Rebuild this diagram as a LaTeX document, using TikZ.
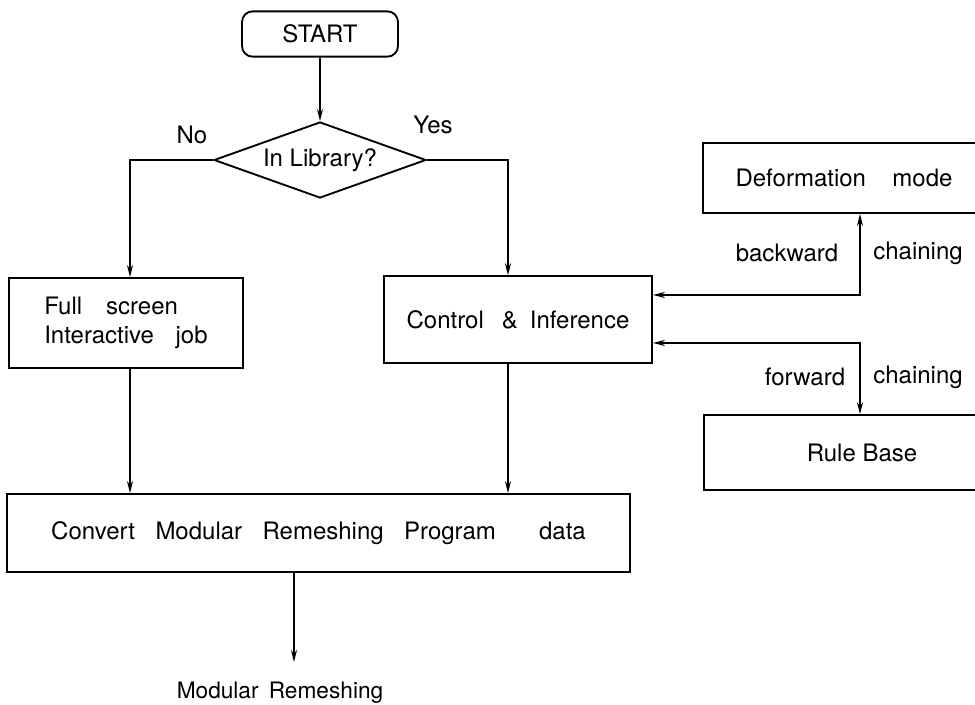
\documentclass[tikz,border=0pt]{standalone}
\usepackage{fontspec}
\setmainfont{TeX Gyre Heros}
\usetikzlibrary{arrows.meta,positioning,shapes.geometric}

\begin{document}
\begin{tikzpicture}[
    x=0.75pt, y=-0.75pt,
    >={Stealth[length=9pt,width=4.5pt]},
    every node/.style={font=\fontsize{18}{22}\selectfont},
    box/.style={draw, line width=1.4pt, inner sep=0pt},
    conn/.style={->, line width=1.4pt},
    link/.style={<->, line width=1.4pt}
]
    \useasboundingbox (0,0) rectangle (975,705);
    \clip (0,0) rectangle (975,705);

    % === MAIN FLOW ===
    \node[box, rounded corners=8pt, minimum width=117pt, minimum height=34pt] (start) at (320,34) {START};

    \node[box, diamond, aspect=2.8, minimum width=159pt, minimum height=57pt] (lib) at (320,160) {In Library?};
    \node (no) at (192,135) {No};
    \node (yes) at (433,125) {Yes};

    \node[box, align=left, minimum width=175pt, minimum height=67.5pt] (full) at (126,323)
        {Full\hspace{1em}screen\\Interactive\hspace{0.9em}job};

    \node[box, minimum width=201pt, minimum height=65pt] (ctl) at (518,319.5)
        {Control\hspace{0.75em}\&\hspace{0.5em}Inference};

    \node[box, minimum width=467pt, minimum height=58.5pt] (conv) at (318.5,533)
        {Convert\hspace{0.85em}Modular\hspace{0.85em}Remeshing\hspace{0.85em}Program\hspace{1.8em}data};

    \node[font=\fontsize{17}{20}\selectfont, inner xsep=2pt, inner ysep=15pt, anchor=north] (out) at (280,662)
        {Modular\hspace{0.45em}Remeshing};

    % === KNOWLEDGE BASE (cut off at the right) ===
    \node[box, minimum width=211.5pt, minimum height=52.5pt] (def) at (844,178) {Deformation\hspace{1.1em}mode};
    \node[box, minimum width=237pt, minimum height=56pt] (rule) at (862,452.5) {Rule Base};

    \node (bw) at (787,253) {backward};
    \node (ch1) at (918,253) {chaining};
    \node (fw) at (805,377) {forward};
    \node (ch2) at (918,377) {chaining};

    % connectors
    \draw[conn] (start.south) -- (lib.north);
    \draw[conn] (lib.west) -| ([xshift=3pt]full.north);
    \draw[conn] (lib.east) -| ([xshift=-7.5pt]ctl.north);
    \draw[conn] ([xshift=3pt]full.south) -- ([xshift=3pt]full.south |- conv.north);
    \draw[conn] ([xshift=-7.5pt]ctl.south) -- ([xshift=-7.5pt]ctl.south |- conv.north);
    \draw[conn] ([xshift=-18.4pt]conv.south) -- ([xshift=-18.4pt]conv.south |- out.north);

    \draw[link] ([yshift=18.4pt]ctl.east) -| ([xshift=12pt]def.south);
    \draw[link] ([yshift=-17.6pt]ctl.east) -| ([xshift=-1.5pt]rule.north);
\end{tikzpicture}
\end{document}
